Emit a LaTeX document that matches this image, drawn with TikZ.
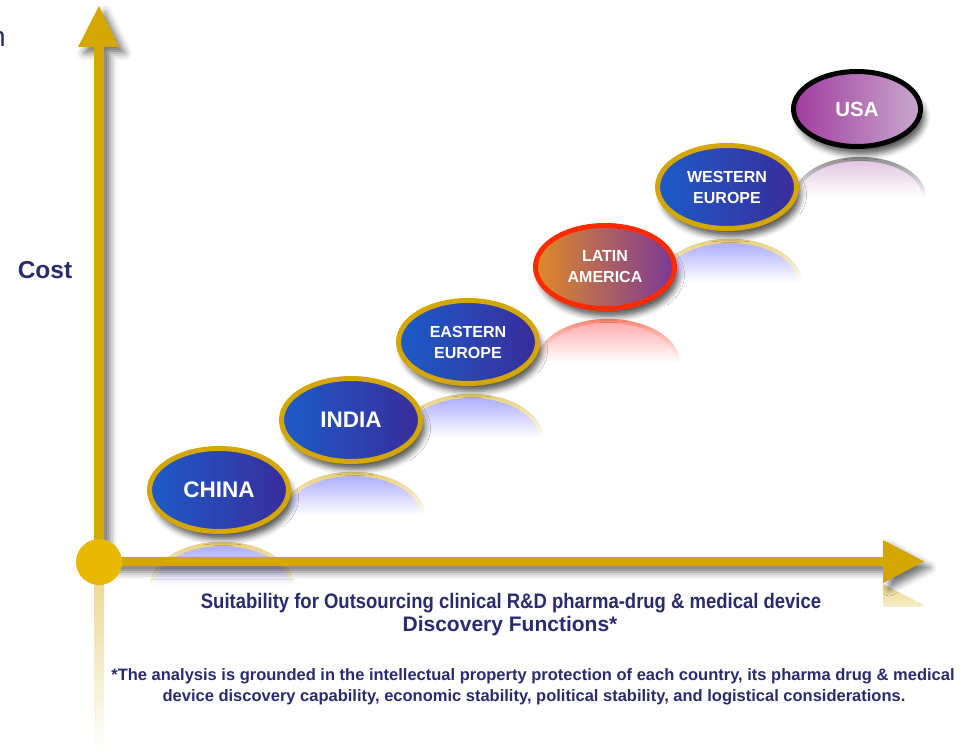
\documentclass[tikz,border=0pt]{standalone}
\usepackage{fontspec}
\usepackage{graphicx}
\setmainfont{Liberation Sans}
\usetikzlibrary{shapes.geometric,shadows.blur}
\definecolor{gold}{HTML}{D4A600}
\definecolor{circgold}{HTML}{E8B800}
\definecolor{navy}{HTML}{2A2A6E}
\definecolor{bl}{HTML}{1C5CC8}
\definecolor{br}{HTML}{3A2C9C}
\definecolor{latl}{HTML}{E08A28}
\definecolor{latr}{HTML}{7A3898}
\definecolor{latborder}{HTML}{FF2A00}
\definecolor{usal}{HTML}{A03CA0}
\definecolor{usar}{HTML}{C8A8CC}
\newcommand{\mirrorell}[6]{%
  \begin{scope}
    \clip (#1-#3-8,#2+#4+4) rectangle (#1+#3+8,#2+3*#4+20);
    \shade[top color=#5, bottom color=white, middle color=white] (#1+3,#2+2*#4+8) ellipse [x radius=#3, y radius=#4];
    \shade[even odd rule, top color=#6, bottom color=white, middle color=white]
      (#1+3,#2+2*#4+8) ellipse [x radius=#3, y radius=#4]
      (#1+3,#2+2*#4+8) ellipse [x radius=#3-4, y radius=#4-4];
  \end{scope}}
\tikzset{
  axisshadow/.style={blur shadow={shadow xshift=6pt, shadow yshift=-6pt, shadow blur radius=7pt, shadow opacity=55}},
  country/.style={ellipse, inner sep=0pt, align=center, text=white, line width=5pt,
    minimum width=139, minimum height=83,
    blur shadow={shadow xshift=4pt, shadow yshift=-8pt, shadow blur radius=6pt, shadow opacity=65}},
  blueball/.style={draw=gold, left color=bl, right color=br},
  bigtxt/.style={font=\bfseries\fontsize{22.5}{25}\selectfont},
  smalltxt/.style={font=\bfseries\fontsize{16}{21}\selectfont},
  lbl/.style={text=navy, inner sep=0pt},
}
\begin{document}
\begin{tikzpicture}[x=1pt,y=-1pt]
\useasboundingbox (0,0) rectangle (960,751);
% cut-off letter
\node[lbl, anchor=base east, font=\fontsize{28}{30}\selectfont] (cut) at (6,47) {n};
% reflections of axes
\shade[top color=gold!45!white, bottom color=white] (94,572) rectangle (104,751);
\begin{scope}
  \clip (880,584) rectangle (930,606);
  \shade[top color=gold!45!white, bottom color=white] (883,584) -- (924,605) -- (883,626) -- cycle;
\end{scope}
% reflections of the ellipses
\mirrorell{219}{490}{72}{44}{blue!35!white}{gold!55!white}
\mirrorell{350}{420}{72}{44}{blue!35!white}{gold!55!white}
\mirrorell{468}{342}{72}{44}{blue!35!white}{gold!55!white}
\mirrorell{605}{267}{72}{44}{red!35!white}{latborder!55!white}
\mirrorell{727}{187}{72}{44}{blue!35!white}{gold!55!white}
\mirrorell{857}{109}{66}{40}{violet!25!white}{black!45}
% axes
\fill[gold, axisshadow] (94,562) -- (94,47) -- (78,47) -- (99,6) -- (119,47) -- (104,47) -- (104,562) -- cycle;
\fill[gold, axisshadow] (99,557) -- (883,557) -- (883,540) -- (924,561.5) -- (883,583) -- (883,566) -- (99,566) -- cycle;
\node[circle, fill=circgold, minimum size=46, inner sep=0pt] (origin) at (99,562) {};
% countries
\node[country, blueball, bigtxt] (china) at (219,490) {CHINA};
\node[country, blueball, bigtxt] (india) at (351,420) {INDIA};
\node[country, blueball, smalltxt] (eeurope) at (468,342) {EASTERN\\EUROPE};
\node[country, draw=latborder, left color=latl, right color=latr, smalltxt] (latam) at (605,267) {LATIN\\AMERICA};
\node[country, blueball, smalltxt] (weurope) at (727,187) {WESTERN\\EUROPE};
\node[country, draw=black, left color=usal, right color=usar, minimum width=127, minimum height=75, font=\bfseries\fontsize{20.5}{22}\selectfont] (usa) at (857,109) {USA};
% labels
\node[lbl, font=\bfseries\fontsize{24.5}{27}\selectfont] (cost) at (45,270) {Cost};
\node[lbl, font=\bfseries\fontsize{21}{24}\selectfont] (xlab1) at (511,603) {\scalebox{0.88}[1]{Suitability for Outsourcing clinical R\&D pharma-drug \& medical device}};
\node[lbl, font=\bfseries\fontsize{21}{24}\selectfont] (xlab2) at (510,626) {Discovery Functions*};
\node[lbl, font=\bfseries\fontsize{16.5}{19}\selectfont] (note1) at (533,676) {*The analysis is grounded in the intellectual property protection of each country, its pharma drug \& medical};
\node[lbl, font=\bfseries\fontsize{16.5}{19}\selectfont] (note2) at (534,697) {device discovery capability, economic stability, political stability, and logistical considerations.};
\end{tikzpicture}
\end{document}
